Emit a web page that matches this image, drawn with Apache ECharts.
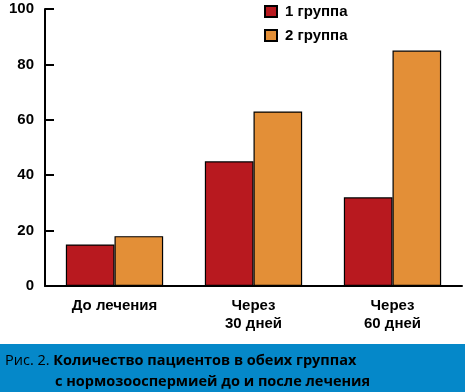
<!DOCTYPE html>
<html><head><meta charset="utf-8">
<script src="https://cdn.jsdelivr.net/npm/echarts@6/dist/echarts.min.js"></script>
<style>html,body{margin:0;padding:0;background:#fff}#c{width:465px;height:392px}</style>
</head><body><div id="c"></div>
<script>
const categories = ['До лечения', 'Через\n30 дней', 'Через\n60 дней'];
const group1 = [15, 45, 32];
const group2 = [18, 63, 85];
const seriesNames = ['1 группа', '2 группа'];
const yTicks = [0, 20, 40, 60, 80, 100];
const captionLine1Prefix = 'Рис. 2. ';
const captionLine1 = 'Количество пациентов в обеих группах';
const captionLine2 = 'с нормозооспермией до и после лечения';

const chart = echarts.init(document.getElementById('c'), null, {renderer: 'canvas'});
const font = '"Liberation Sans", Arial, sans-serif';
chart.setOption({
  animation: false,
  backgroundColor: '#fff',
  grid: {left: 45, right: 3, top: 9, bottom: 106, containLabel: false},
  legend: {
    orient: 'vertical', left: 264, top: 4, padding: 0, itemWidth: 12, itemHeight: 11, itemGap: 9,
    icon: 'rect',
    data: seriesNames,
    textStyle: {fontFamily: font, fontWeight: 'bold', fontSize: 15, color: '#000', padding: [0,0,0,3]}
  },
  xAxis: {
    type: 'category', data: categories,
    axisLine: {lineStyle: {color: '#000', width: 2}},
    axisTick: {inside: true, length: 8, lineStyle: {color: '#000', width: 2}},
    axisLabel: {fontFamily: font, fontWeight: 'bold', fontSize: 15, color: '#000', margin: 11, lineHeight: 18}
  },
  yAxis: {
    type: 'value', min: yTicks[0], max: yTicks[yTicks.length-1], interval: 20,
    axisLine: {show: true, lineStyle: {color: '#000', width: 2}},
    axisTick: {show: true, inside: true, length: 9, lineStyle: {color: '#000', width: 2}},
    splitLine: {show: false},
    axisLabel: {fontFamily: font, fontWeight: 'bold', fontSize: 15, color: '#000', margin: 11}
  },
  series: [
    {name: seriesNames[0], type: 'bar', data: group1, barWidth: '35%', barGap: '0%',
     itemStyle: {color: '#b8191f', borderColor: '#000', borderWidth: 1.2}},
    {name: seriesNames[1], type: 'bar', data: group2, barWidth: '35%',
     itemStyle: {color: '#e38f37', borderColor: '#000', borderWidth: 1.2}}
  ],
  graphic: [
    {type: 'rect', left: 0, top: 344, shape: {width: 465, height: 48}, style: {fill: '#0588c9'}, silent: true},
    {type: 'text', left: 5, top: 353, style: {
      text: '{a|' + captionLine1Prefix + '}{b|' + captionLine1 + '}',
      rich: {
        a: {fontFamily: '"Open Sans", "Noto Sans", sans-serif', fontSize: 14.5, color: '#fff', fontWeight: 'normal'},
        b: {fontFamily: '"Open Sans", "Noto Sans", sans-serif', fontSize: 14.5, color: '#fff', fontWeight: 'bold'}
      }}},
    {type: 'text', left: 55, top: 374, style: {
      text: captionLine2, fontFamily: '"Open Sans", "Noto Sans", sans-serif', fontSize: 14.5, color: '#fff', fontWeight: 'bold'}}
  ]
});
</script></body></html>
